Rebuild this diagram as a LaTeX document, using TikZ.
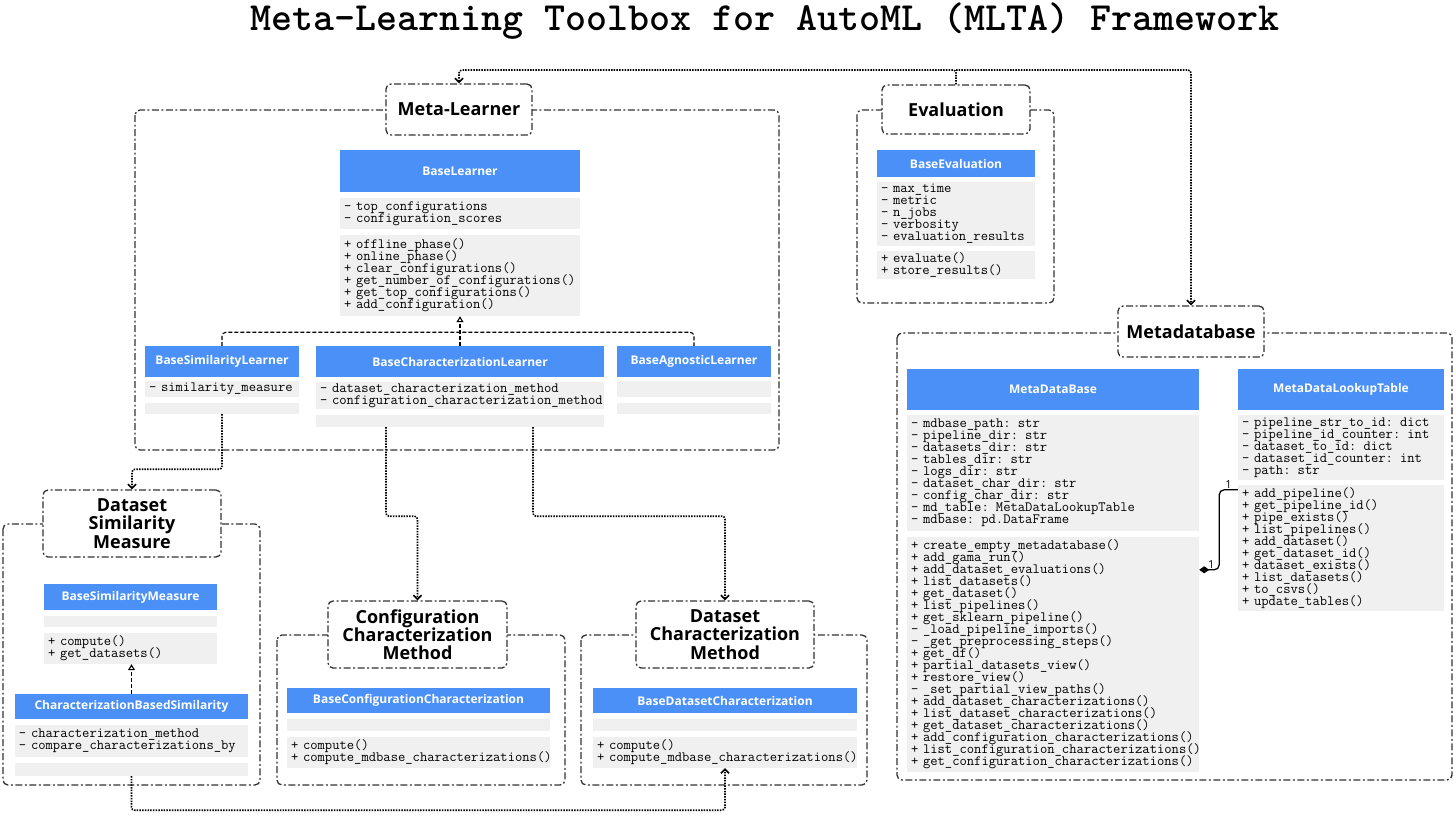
\documentclass[tikz,border=0pt]{standalone}
\usepackage{fontspec}
\newfontfamily\opensans{Open Sans}
\usetikzlibrary{calc}
\usetikzlibrary{arrows.meta}
\definecolor{headblue}{RGB}{74,144,247}
\definecolor{bodygray}{RGB}{240,240,240}
\definecolor{framegray}{RGB}{51,51,51}
\tikzset{%
  myhead/.style={fill=headblue, text=white, inner sep=0pt, font={\fontsize{12}{14}\opensans\bfseries}},
  mybody/.style={fill=bodygray, inner xsep=4pt, inner ysep=0pt, align=left,
                 font={\fontsize{14.2}{12}\ttfamily\lineskiplimit=-20pt\lineskip=0pt}},
  myframe/.style={draw=framegray, line width=1.3pt, dash pattern=on 7pt off 2.5pt on 2pt off 2.5pt, rounded corners=5pt},
  mylabel/.style={myframe, fill=white, align=center, inner sep=0pt, font={\fontsize{18}{18.3}\opensans\bfseries}},
  myflow/.style={-{Straight Barb[length=4pt, width=8pt]}, line width=1.6pt, dash pattern=on 1.5pt off 1.2pt, rounded corners=3pt},
  myinherit/.style={-{Triangle[open, length=6pt, width=7pt]}, line width=1.1pt, dash pattern=on 4pt off 2pt},
  mybranch/.style={line width=1.1pt, dash pattern=on 4pt off 2pt, rounded corners=4pt},
  mycompose/.style={{Diamond[length=10pt, width=7pt]}-, line width=1.3pt, rounded corners=5pt},
  mymult/.style={inner sep=1pt, font={\fontsize{11}{12}\opensans}}
}

\begin{document}
\begin{tikzpicture}[x=1pt, y=-1pt]
\fill[white] (0,0) rectangle (1456,817);
\useasboundingbox (0,0) rectangle (1456,817);

\node[anchor=base, font={\fontsize{40}{44}\ttfamily\bfseries}] (title) at (765,30.5)
  {Meta-Learning Toolbox for AutoML (MLTA) Framework};

% package frames
\foreach \xa / \ya / \xb / \yb in {135/110/779/450, 857/110/1054/303, 897/333/1452/780,
                                 3/524/260/785, 277/635/565/785, 581/635/867/785} {
  \draw[myframe] (\xa,\ya) rectangle (\xb,\yb);
}

% package labels
\node[mylabel, minimum width=146pt, minimum height=51pt] (MLl) at (459,109.5) {Meta-Learner};
\node[mylabel, minimum width=148pt, minimum height=49pt] (EVl) at (956,109.5) {Evaluation};
\node[mylabel, minimum width=146pt, minimum height=51pt] (MDl) at (1191,331.5) {Metadatabase};
\node[mylabel, minimum width=178pt, minimum height=67pt] (DSl) at (132,523.5) {Dataset\\Similarity\\Measure};
\node[mylabel, minimum width=179pt, minimum height=67pt] (CCl) at (417.5,634.5) {Configuration\\Characterization\\Method};
\node[mylabel, minimum width=178pt, minimum height=67pt] (DCl) at (725,634.5) {Dataset\\Characterization\\Method};

% meta-learner classes
\node[myhead, minimum width=240pt, minimum height=42pt] (BLh) at (460,171) {BaseLearner};
\node[mybody, text width=232pt, minimum height=31pt] (BLa) at (460,213.5)
  {- top\_configurations\\- configuration\_scores};
\node[mybody, text width=232pt, minimum height=81pt] (BLm) at (460,275.5)
  {+ offline\_phase()\\+ online\_phase()\\+ clear\_configurations()\\+ get\_number\_of\_configurations()\\+ get\_top\_configurations()\\+ add\_configuration()};

\node[myhead, minimum width=154pt, minimum height=31pt] (BSLh) at (222,361.5) {BaseSimilarityLearner};
\node[mybody, text width=146pt, minimum height=16pt] (BSLa) at (222,389) {- similarity\_measure};
\node[mybody, text width=146pt, minimum height=11pt] (BSLm) at (222,408.5) {};

\node[myhead, minimum width=288pt, minimum height=31pt] (BCLh) at (460,361.5) {BaseCharacterizationLearner};
\node[mybody, text width=280pt, minimum height=27pt] (BCLa) at (460,395.5)
  {-~dataset\_characterization\_method\\-~configuration\_characterization\_method};
\node[mybody, text width=280pt, minimum height=12pt] (BCLm) at (460,421) {};

\node[myhead, minimum width=154pt, minimum height=31pt] (BALh) at (694,361.5) {BaseAgnosticLearner};
\node[mybody, text width=146pt, minimum height=16pt] (BALa) at (694,389) {};
\node[mybody, text width=146pt, minimum height=11pt] (BALm) at (694,408.5) {};

% evaluation
\node[myhead, minimum width=158pt, minimum height=27pt] (BEh) at (956,163.5) {BaseEvaluation};
\node[mybody, text width=150pt, minimum height=64pt] (BEa) at (956,214)
  {- max\_time\\- metric\\- n\_jobs\\- verbosity\\- evaluation\_results};
\node[mybody, text width=150pt, minimum height=28pt] (BEm) at (956,265)
  {+ evaluate()\\+ store\_results()};

% metadatabase
\node[myhead, minimum width=292pt, minimum height=41pt] (MDBh) at (1053,389.5) {MetaDataBase};
\node[mybody, text width=284pt, minimum height=116pt] (MDBa) at (1053,473)
  {- mdbase\_path: str\\- pipeline\_dir: str\\- datasets\_dir: str\\- tables\_dir: str\\- logs\_dir: str\\- dataset\_char\_dir: str\\- config\_char\_dir: str\\- md\_table: MetaDataLookupTable\\- mdbase: pd.DataFrame};
\node[mybody, text width=284pt, minimum height=235pt] (MDBm) at (1053,654.5)
  {+ create\_empty\_metadatabase()\\+ add\_gama\_run()\\+ add\_dataset\_evaluations()\\+ list\_datasets()\\+ get\_dataset()\\+ list\_pipelines()\\+ get\_sklearn\_pipeline()\\- \_load\_pipeline\_imports()\\- \_get\_preprocessing\_steps()\\+ get\_df()\\+ partial\_datasets\_view()\\+ restore\_view()\\- \_set\_partial\_view\_paths()\\+ add\_dataset\_characterizations()\\+ list\_dataset\_characterizations()\\+ get\_dataset\_characterizations()\\+~add\_configuration\_characterizations()\\+~list\_configuration\_characterizations()\\+~get\_configuration\_characterizations()};

\node[myhead, minimum width=206pt, minimum height=41pt] (LUTh) at (1341,389.5) {MetaDataLookupTable};
\node[mybody, text width=198pt, minimum height=65pt] (LUTa) at (1341,447.5)
  {- pipeline\_str\_to\_id: dict\\- pipeline\_id\_counter: int\\- dataset\_to\_id: dict\\- dataset\_id\_counter: int\\- path: str};
\node[mybody, text width=198pt, minimum height=126pt] (LUTm) at (1341,548)
  {+ add\_pipeline()\\+ get\_pipeline\_id()\\+ pipe\_exists()\\+ list\_pipelines()\\+ add\_dataset()\\+ get\_dataset\_id()\\+ dataset\_exists()\\+ list\_datasets()\\+ to\_csvs()\\+ update\_tables()};

% similarity measure
\node[myhead, minimum width=173pt, minimum height=26pt] (BSMh) at (130.5,597) {BaseSimilarityMeasure};
\node[mybody, text width=165pt, minimum height=11pt] (BSMa) at (130.5,621.5) {};
\node[mybody, text width=165pt, minimum height=31pt] (BSMm) at (130.5,648.5)
  {+ compute()\\+ get\_datasets()};

\node[myhead, minimum width=233pt, minimum height=25pt] (CBSh) at (131.5,706.5) {CharacterizationBasedSimilarity};
\node[mybody, text width=225pt, minimum height=32pt] (CBSa) at (131.5,741)
  {- characterization\_method\\-~compare\_characterizations\_by};
\node[mybody, text width=225pt, minimum height=13pt] (CBSm) at (131.5,769.5) {};

% characterization methods
\node[myhead, minimum width=263pt, minimum height=25pt] (BCCh) at (418.5,700.5) {BaseConfigurationCharacterization};
\node[mybody, text width=255pt, minimum height=12pt] (BCCa) at (418.5,725) {};
\node[mybody, text width=255pt, minimum height=31pt] (BCCm) at (418.5,752.5)
  {+ compute()\\+~compute\_mdbase\_characterizations()};

\node[myhead, minimum width=264pt, minimum height=25pt] (BDCh) at (725,700.5) {BaseDatasetCharacterization};
\node[mybody, text width=256pt, minimum height=12pt] (BDCa) at (725,725) {};
\node[mybody, text width=256pt, minimum height=31pt] (BDCm) at (725,752.5)
  {+ compute()\\+~compute\_mdbase\_characterizations()};

% inheritance
\draw[myinherit] (BCLh.north) -- (BLm.south);
\draw[mybranch] (BSLh.north) |- ($(BLm.south)+(0,16)$) -| (BALh.north);
\draw[myinherit] (CBSh.north) -- (CBSh.north |- BSMm.south);

% composition
\draw[mycompose] ([yshift=-33pt]MDBm.north east) -- node[pos=0.6, above, mymult] {1} ++(20,0)
  |- node[pos=0.75, above, mymult] {1} ([yshift=-5pt]LUTm.north west);

% dependencies
\coordinate (J) at (956,70);
\draw[myflow] (EVl.north) -- (J) -| (MLl.north);
\draw[myflow] (J) -| (MDl.north);
\draw[myflow] (BSLm.south) -- ++(0,55) -| (DSl.north);
\draw[myflow] ([xshift=-74pt]BCLm.south) -- ++(0,89) -| (CCl.north);
\draw[myflow] ([xshift=73pt]BCLm.south) -- ++(0,89) -| (DCl.north);
\draw[myflow] (CBSm.south) -- ++(0,34) -| (BDCm.south);

\end{tikzpicture}
\end{document}
